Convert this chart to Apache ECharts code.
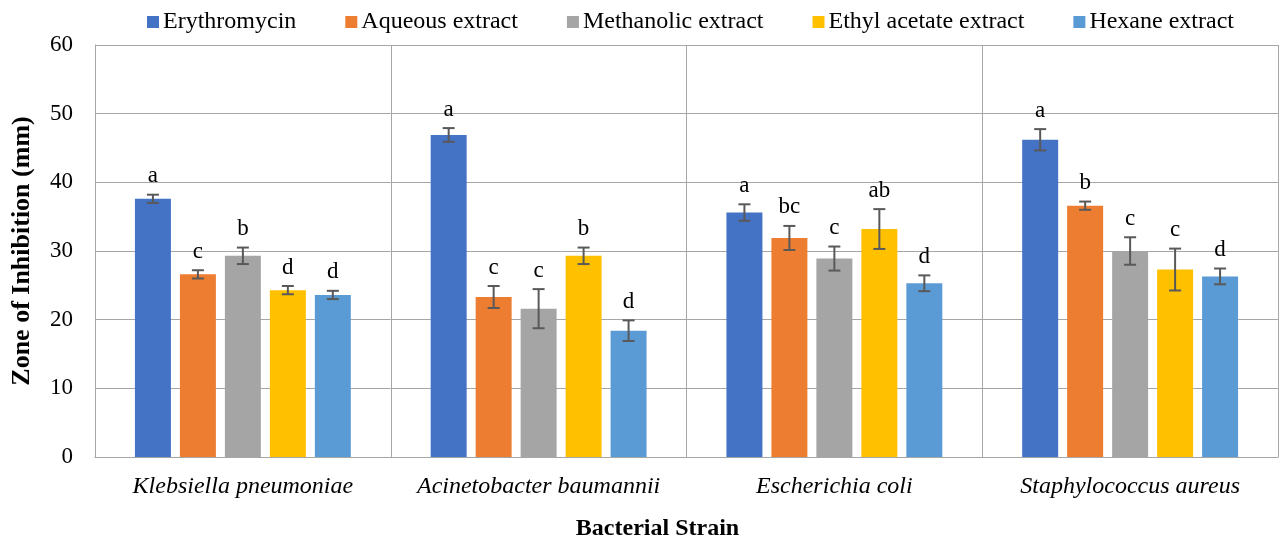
<!DOCTYPE html>
<html>
<head>
<meta charset="utf-8">
<script src="https://cdn.jsdelivr.net/npm/echarts@6/dist/echarts.min.js"></script>
<style>
  html, body { margin: 0; padding: 0; background: #fff; }
  #chart { width: 1280px; height: 541px; }
</style>
</head>
<body>
<div id="chart"></div>
<script>
// data
const strains = ['Klebsiella pneumoniae', 'Acinetobacter baumannii', 'Escherichia coli', 'Staphylococcus aureus']
const seriesNames = ['Erythromycin', 'Aqueous extract', 'Methanolic extract', 'Ethyl acetate extract', 'Hexane extract']
const colors = ['#4472C4', '#ED7D31', '#A5A5A5', '#FFC000', '#5B9BD5']

const erythromycin = [37.6, 46.9, 35.6, 46.2]
const aqueous = [26.6, 23.3, 31.9, 36.6]
const methanolic = [29.3, 21.6, 28.9, 30.0]
const ethylAcetate = [24.3, 29.3, 33.2, 27.3]
const hexane = [23.6, 18.4, 25.3, 26.3]

const errErythromycin = [0.6, 1.0, 1.2, 1.55]
const errAqueous = [0.6, 1.6, 1.75, 0.6]
const errMethanolic = [1.2, 2.85, 1.75, 2.0]
const errEthylAcetate = [0.6, 1.2, 2.9, 3.05]
const errHexane = [0.6, 1.5, 1.15, 1.15]

const lettersErythromycin = ['a', 'a', 'a', 'a']
const lettersAqueous = ['c', 'c', 'bc', 'b']
const lettersMethanolic = ['b', 'c', 'c', 'c']
const lettersEthylAcetate = ['d', 'b', 'ab', 'c']
const lettersHexane = ['d', 'd', 'd', 'd']

const values = [erythromycin, aqueous, methanolic, ethylAcetate, hexane]
const errors = [errErythromycin, errAqueous, errMethanolic, errEthylAcetate, errHexane]
const letters = [lettersErythromycin, lettersAqueous, lettersMethanolic, lettersEthylAcetate, lettersHexane]

const categoryGap = 0.27
const barGap = 0.25
const font = '"Liberation Serif", "Times New Roman", serif'

const chart = echarts.init(document.getElementById('chart'))

function errorSeries(idx) {
  return {
    type: 'custom',
    name: seriesNames[idx] + ' err',
    z: 5,
    silent: true,
    data: strains.map((s, i) => [i, values[idx][i], errors[idx][i]]),
    renderItem: function (params, api) {
      const ci = api.value(0)
      const v = api.value(1)
      const e = api.value(2)
      const band = api.size([1, 0])[0]
      const total = band * (1 - categoryGap)
      const bw = total / (5 + 4 * barGap)
      const center = api.coord([ci, 0])[0]
      const x = center - total / 2 + idx * bw * (1 + barGap) + bw / 2
      const yTop = api.coord([ci, v + e])[1]
      const yBot = api.coord([ci, v - e])[1]
      const cap = 6
      const st = { stroke: '#595959', lineWidth: 2 }
      return {
        type: 'group',
        children: [
          { type: 'line', shape: { x1: x, y1: yTop, x2: x, y2: yBot }, style: st },
          { type: 'line', shape: { x1: x - cap, y1: yTop, x2: x + cap, y2: yTop }, style: st },
          { type: 'line', shape: { x1: x - cap, y1: yBot, x2: x + cap, y2: yBot }, style: st },
          {
            type: 'text',
            style: {
              text: letters[idx][ci],
              x: x, y: yTop - 7,
              textAlign: 'center', textVerticalAlign: 'bottom',
              fontFamily: font, fontSize: 23, fill: '#000'
            }
          }
        ]
      }
    }
  }
}

const barSeries = seriesNames.map((name, idx) => ({
  type: 'bar',
  name: name,
  data: values[idx],
  itemStyle: { color: colors[idx] },
  barGap: (barGap * 100) + '%',
  barCategoryGap: (categoryGap * 100) + '%'
}))

chart.setOption({
  animation: false,
  textStyle: { fontFamily: font },
  color: colors,
  legend: {
    data: seriesNames,
    top: 10,
    left: 147,
    padding: 0,
    itemWidth: 12,
    itemHeight: 12,
    itemGap: 49,
    icon: 'rect',
    textStyle: { fontFamily: font, fontSize: 24, color: '#000', padding: [0, 0, 0, -1] }
  },
  grid: { left: 95, right: 2, top: 45, bottom: 84, outerBoundsMode: 'none' },
  xAxis: {
    type: 'category',
    data: strains,
    name: 'Bacterial Strain',
    nameLocation: 'middle',
    nameGap: 60,
    nameTextStyle: { fontFamily: font, fontSize: 24, fontWeight: 'bold', color: '#000', padding: [0, 58, 0, 0] },
    axisLine: { lineStyle: { color: '#a6a6a6', width: 1 } },
    axisTick: { show: false },
    axisLabel: { interval: 0, fontFamily: font, fontSize: 24, fontStyle: 'italic', color: '#000', margin: 18 },
    splitLine: { show: true, interval: 0, lineStyle: { color: '#a6a6a6', width: 1 } }
  },
  yAxis: {
    type: 'value',
    min: 0,
    max: 60,
    interval: 10,
    name: 'Zone of Inhibition (mm)',
    nameLocation: 'middle',
    nameGap: 60,
    nameTextStyle: { fontFamily: font, fontSize: 26, fontWeight: 'bold', color: '#000' },
    axisLine: { show: true, lineStyle: { color: '#a6a6a6', width: 1 } },
    axisTick: { show: false },
    axisLabel: { fontFamily: font, fontSize: 23, color: '#000', margin: 22 },
    splitLine: { show: true, lineStyle: { color: '#a6a6a6', width: 1 } }
  },
  series: barSeries.concat(seriesNames.map((n, i) => errorSeries(i)))
})
</script>
</body>
</html>
